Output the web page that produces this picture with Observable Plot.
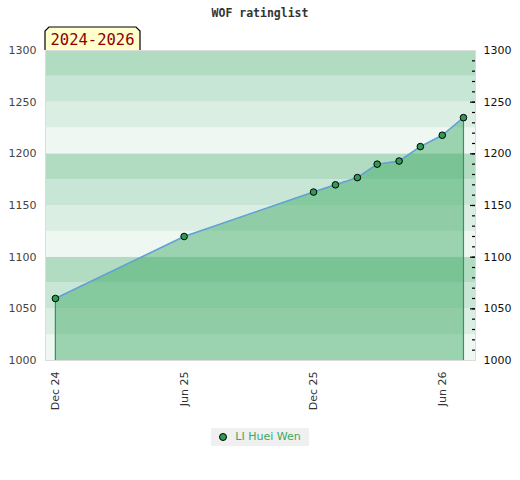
<!DOCTYPE html>
<html>
<head>
<meta charset="utf-8">
<script src="https://cdn.jsdelivr.net/npm/d3@7"></script>
<script src="https://cdn.jsdelivr.net/npm/@observablehq/plot@0.6"></script>
<style>
  html, body { margin: 0; padding: 0; background: #fff; }
  #wrap { width: 520px; font-family: "DejaVu Sans", sans-serif; }
  #title { height: 26px; line-height: 26px; text-align: center; font-family: "DejaVu Sans Mono", monospace; font-weight: bold; font-size: 11.5px; color: #333; }
  #chart { height: 394px; }
  #legend { text-align: center; margin-top: 8px; line-height: 0; }
  #legend span.box { display: inline-flex; align-items: center; background: #f0f0f0; padding: 0 8px 0 8px; height: 18px; font-size: 11px; line-height: 18px; color: #3aa95e; }
  #legend span.dot { display: inline-block; width: 6px; height: 6px; border-radius: 50%; background: #2e9c55; border: 1px solid #000; margin-right: 8px; }
</style>
</head>
<body>
<div id="wrap">
  <div id="title">WOF ratinglist</div>
  <div id="chart"></div>
  <div id="legend"><span class="box"><span class="dot"></span>LI Huei Wen</span></div>
</div>
<script>
const dates = ["2024-12-01","2025-06-01","2025-12-01","2026-01-01","2026-02-01","2026-03-01","2026-04-01","2026-05-01","2026-06-01","2026-07-01"];
const ratings = [1060, 1120, 1163, 1170, 1177, 1190, 1193, 1207, 1218, 1235];
const player = "LI Huei Wen";
const periodLabel = "2024-2026";
const yDomain = [1000, 1300];
const xDomain = ["2024-11-17", "2026-07-18"];
const xTicks = ["2024-12-01","2025-06-01","2025-12-01","2026-06-01"];
const bandStep = 25;
const bandColors = ["#eff7f2", "#dbeee3", "#c8e6d5", "#b2dcc2"];

const parse = d3.utcParse("%Y-%m-%d");
const data = dates.map((d, i) => ({date: parse(d), rating: ratings[i]}));
const bands = d3.range(yDomain[0], yDomain[1], bandStep).map((lo, i) => ({lo, hi: lo + bandStep, c: bandColors[i % 4]}));
const ends = [data[0], data[data.length - 1]];

const fontCss = {fontFamily: "DejaVu Sans, sans-serif", fontSize: "11px", overflow: "visible", display: "block"};

const chart = Plot.plot({
  width: 520,
  height: 394,
  marginTop: 24,
  marginBottom: 60,
  marginLeft: 45,
  marginRight: 45,
  style: fontCss,
  x: {type: "utc", domain: xDomain.map(parse)},
  y: {domain: yDomain},
  marks: [
    Plot.rect(bands, {y1: "lo", y2: "hi", fill: "c"}),
    Plot.areaY(data, {x: "date", y1: yDomain[0], y2: "rating", fill: "rgb(48,165,92)", fillOpacity: 0.44}),
    Plot.ruleX(ends, {x: "date", y1: yDomain[0], y2: "rating", stroke: "#2f9a55", strokeWidth: 1.2}),
    Plot.line(data, {x: "date", y: "rating", stroke: "#62a0da", strokeWidth: 1.5}),
    Plot.dot(data, {x: "date", y: "rating", r: 3.3, fill: "#2e9c55", stroke: "#000", strokeWidth: 1}),
    Plot.frame({stroke: "#dcdcdc"}),
    Plot.axisY({anchor: "left", ticks: d3.range(1000, 1301, 50), tickSize: 0, tickPadding: 9, tickFormat: d => String(d), fill: "#444", fontSize: 11}),
    Plot.axisY({anchor: "right", ticks: d3.range(1000, 1301, 50), tickSize: 0, tickPadding: 8, tickFormat: d => String(d), fill: "#111", fontSize: 11}),
    Plot.axisY({anchor: "right", ticks: d3.range(1010, 1300, 10), tickSize: -3, dx: -1, text: null, stroke: "#000", strokeWidth: 1.2}),
    Plot.axisY({anchor: "right", ticks: d3.range(1050, 1300, 50), tickSize: -5, dx: -1, text: null, stroke: "#000", strokeWidth: 1.2}),
    Plot.axisX({ticks: xTicks.map(parse), tickFormat: d3.utcFormat("%b %y"), tickRotate: -90, tickSize: 0, tickPadding: 11, fill: "#333", fontSize: 11})
  ]
});

// period label box above the frame's top-left corner
const svg = d3.select(chart);
const x0 = 45, x1 = 140, yTop = 1, yBot = 24, ch = 4;
const g = svg.append("g");
g.append("path")
  .attr("d", `M${x0},${yBot} V${yTop + ch} L${x0 + ch},${yTop} H${x1 - ch} L${x1},${yTop + ch} V${yBot}`)
  .attr("fill", "#ffffcc").attr("stroke", "#000").attr("stroke-width", 1.2);
g.append("text")
  .attr("x", (x0 + x1) / 2).attr("y", 19)
  .attr("text-anchor", "middle")
  .attr("font-family", "DejaVu Sans Mono, monospace")
  .attr("font-size", 15.5)
  .attr("fill", "#8b0000")
  .text(periodLabel);

document.getElementById("chart").appendChild(chart);
</script>
</body>
</html>
